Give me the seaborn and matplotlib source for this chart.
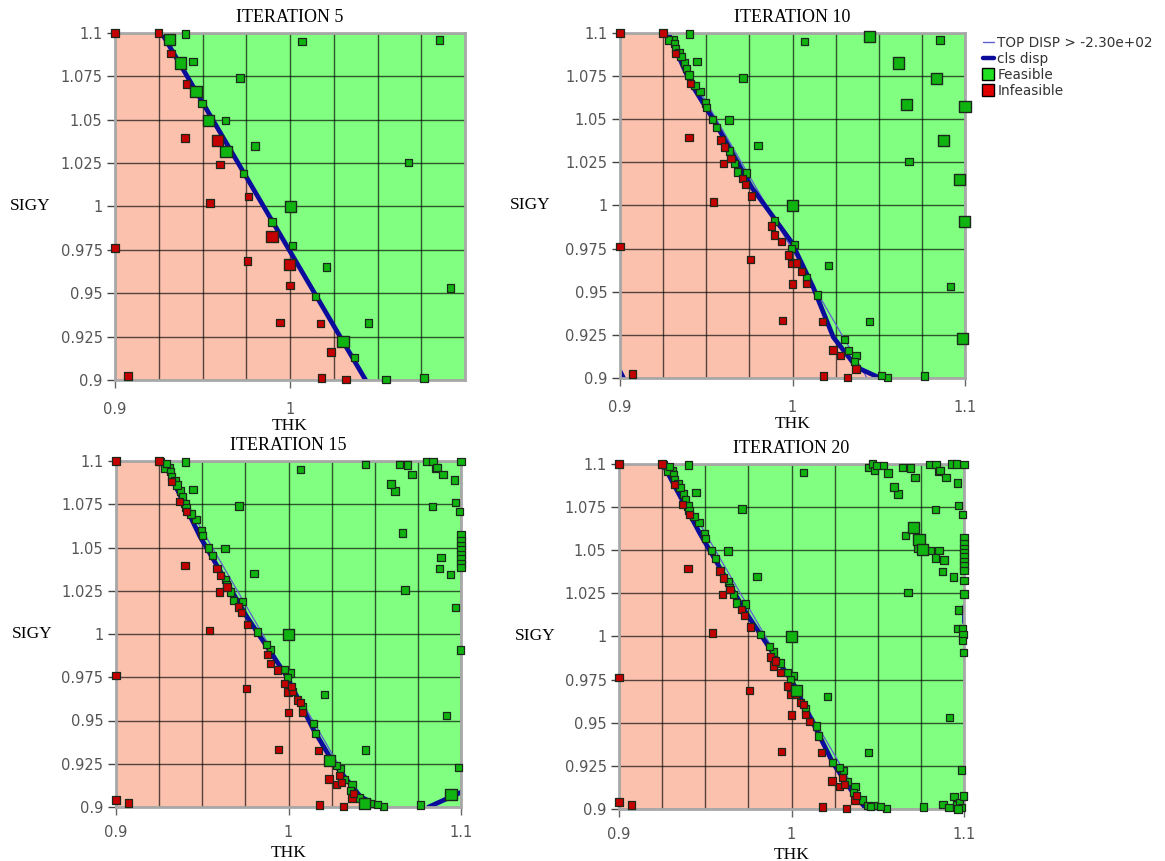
import pandas as pd
import matplotlib
matplotlib.use('Agg')
import matplotlib.pyplot as plt
from matplotlib.lines import Line2D
import seaborn as sns

# ---- sample points (THK, SIGY), cumulative over iterations ----
feas_5 = [(0.9309, 1.096), (0.9402, 1.0994), (0.9373, 1.0827), (0.9446, 1.0834), (0.9714, 1.074),
          (0.9463, 1.0661), (0.9497, 1.0595), (0.9535, 1.0497), (0.9632, 1.0495), (0.9634, 1.0316),
          (0.98, 1.0349), (0.9735, 1.0189), (1.0069, 1.095), (1.0855, 1.096), (1.0676, 1.0254),
          (1.0002, 0.9998), (0.9897, 0.991), (1.0013, 0.9775), (1.0208, 0.9651), (1.0916, 0.953),
          (1.0145, 0.9482), (1.0448, 0.9329), (1.0303, 0.9222), (1.0368, 0.9129), (1.0549, 0.9004),
          (1.0766, 0.9012)]
infeas_5 = [(0.900, 1.100), (0.925, 1.100), (0.932, 1.088), (0.941, 1.0707), (0.940, 1.0395),
            (0.9585, 1.038), (0.960, 1.0243), (0.9543, 1.002), (0.9764, 1.0056), (0.9897, 0.9829),
            (0.900, 0.9761), (0.9998, 0.9665), (0.9756, 0.9686), (1.000, 0.9545), (0.9943, 0.9333),
            (1.0175, 0.9326), (1.0234, 0.9162), (0.9074, 0.9023), (1.0181, 0.9012), (1.032, 0.9004)]
big_feas_5 = [(0.9309, 1.096), (0.9373, 1.0827), (0.9463, 1.0661), (0.9535, 1.0497), (0.9634, 1.0316),
              (1.0002, 0.9998), (1.0303, 0.9222)]
big_infeas_5 = [(0.9585, 1.038), (0.9897, 0.9829), (0.9998, 0.9665)]

feas_10 = [(0.9280, 1.0959), (0.9315, 1.094), (0.9323, 1.091), (0.9342, 1.0888), (0.9354, 1.0862),
           (0.9387, 1.0795), (0.9400, 1.0756), (0.9435, 1.0694), (0.9502, 1.0568), (0.9560, 1.0452),
           (0.9663, 1.0243), (0.9682, 1.0194), (0.9995, 0.9749), (1.0082, 0.9579), (1.0324, 0.9159),
           (1.0358, 0.9095), (1.0517, 0.9014), (1.0445, 1.098), (1.0617, 1.0826), (1.0836, 1.0737),
           (1.0662, 1.0584), (1.1, 1.0573), (1.0874, 1.0377), (1.0967, 1.0153), (1.0996, 0.9907),
           (1.0986, 0.9227)]
infeas_10 = [(0.9605, 1.034), (0.9644, 1.0272), (0.9709, 1.0156), (0.9728, 1.0123), (0.9879, 0.9881),
             (0.9937, 0.9792), (0.9976, 0.9714), (1.0024, 0.9666), (1.0053, 0.9618), (1.0082, 0.9546),
             (1.0279, 0.913), (1.0368, 0.9052)]
big_feas_10 = [(1.0002, 0.9998), (1.0445, 1.098), (1.0617, 1.0826), (1.0836, 1.0737), (1.0662, 1.0584),
               (1.1, 1.0573), (1.0874, 1.0377), (1.0967, 1.0153), (1.0996, 0.9907), (1.0986, 0.9227)]
big_infeas_10 = []

feas_15 = [(0.9255, 1.0996), (0.9294, 1.0987), (0.9406, 1.0731), (0.9642, 1.0284), (0.9820, 1.0011),
           (0.9874, 0.9941), (0.9975, 0.9793), (1.0155, 0.9423), (1.0238, 0.9269), (1.0277, 0.9239),
           (1.0412, 0.9052), (1.0439, 0.9019), (1.0474, 0.9019), (1.0644, 1.0981), (1.0690, 1.0977),
           (1.0716, 1.0923), (1.0799, 1.0996), (1.0837, 1.0996), (1.0860, 1.0962), (1.0895, 1.0923),
           (1.1, 1.0996), (1.0961, 1.0890), (1.0594, 1.0867), (1.0967, 1.0761), (1.0992, 1.0707),
           (1.1, 1.0538), (1.1, 1.0511), (1.1, 1.0486), (1.1, 1.0461), (1.1, 1.0434), (1.1, 1.0409),
           (1.1, 1.0384), (1.0884, 1.0444), (1.0938, 1.0345), (1.0942, 0.9071)]
infeas_15 = [(0.9367, 1.0765), (1.0019, 0.9697), (1.0068, 0.9605), (1.0296, 0.9181), (1.0309, 0.9143),
             (1.0377, 0.9077), (0.9, 0.904)]
big_feas_15 = [(1.0002, 0.9998), (1.0238, 0.9269), (1.0439, 0.9019), (1.0942, 0.9071)]
big_infeas_15 = []

feas_20 = [(0.9935, 0.9847), (1.0028, 0.9687), (1.0469, 1.1), (1.0482, 1.0961), (1.0496, 1.0992),
           (1.0535, 1.0992), (1.0560, 1.0948), (1.0927, 1.1), (1.0956, 1.1), (1.0705, 1.0633),
           (1.0739, 1.0562), (1.0759, 1.0504), (1.0734, 1.0514), (1.0805, 1.0498), (1.0855, 1.0498),
           (1.0836, 1.0456), (1.1, 1.0324), (1.1, 1.0247), (1.0965, 1.0046), (1.0990, 1.0046),
           (1.0994, 1.0011), (1.0990, 0.9977), (1.0878, 0.9027), (1.0913, 0.9008), (1.0956, 0.9027),
           (1.0975, 0.9036), (1.0985, 0.9008), (1.0998, 0.9075), (1.0965, 0.9), (1.0457, 0.9015)]
infeas_20 = [(0.9908, 0.9857), (1.0105, 0.9507)]
big_feas_20 = [(1.0002, 0.9998), (1.0028, 0.9687), (1.0705, 1.0633), (1.0739, 1.0562), (1.0759, 1.0504)]
big_infeas_20 = []

# ---- constraint boundary (cls disp) per iteration, plus stray contour pieces ----
cls_5 = [(0.9267, 1.1), (1.0432, 0.9)]
cls_10 = [(0.928, 1.1), (0.9406, 1.0716), (0.9541, 1.0499), (0.9763, 1.0106), (0.9995, 0.9787),
          (1.012, 0.9526), (1.0237, 0.9236), (1.0372, 0.9062), (1.0507, 0.9)]
cls_15 = [(0.9275, 1.1), (0.9487, 1.0563), (0.9758, 1.0101), (0.999, 0.9755), (1.0145, 0.9447),
          (1.0261, 0.9254), (1.0416, 0.9061), (1.0532, 0.9)]
cls_20 = [(0.9255, 1.1), (0.9468, 1.0599), (0.9738, 1.0135), (1.0009, 0.973), (1.0125, 0.9498),
          (1.024, 0.9267), (1.0357, 0.9093), (1.0434, 0.9)]
extra_10 = [(0.9, 0.904), (0.902, 0.9)]
extra_15 = [(1.0812, 0.9), (1.1, 0.9085)]
extra_20 = [(1.1, 1.0176), (1.1, 1.0085)]
# true constraint TOP DISP > -2.30e+02
top_disp = [(0.9267, 1.1), (1.0432, 0.9)]

y_ticks = [1.1, 1.075, 1.05, 1.025, 1.0, 0.975, 0.95, 0.925, 0.9]
y_tick_labels = ['1.1', '1.075', '1.05', '1.025', '1', '0.975', '0.95', '0.925', '0.9']
x_ticks = [0.9, 1.0, 1.1]
x_tick_labels = ['0.9', '1', '1.1']
x_grid = [0.925, 0.95, 0.975, 1.025, 1.05, 1.075]

GREEN_BG = '#80ff80'
PINK_BG = '#fbc1ad'
GREEN_PT = '#10b410'
RED_PT = '#c40000'
CLS_COLOR = '#0c0c9c'
TOP_COLOR = '#6060d0'
SERIF = 'Liberation Serif'

sns.set_theme(style='white')
plt.rcParams['font.family'] = ['DejaVu Sans']


def to_df(pts, status):
    return pd.DataFrame(pts, columns=['THK', 'SIGY']).assign(status=status)


fig = plt.figure(figsize=(11.65, 8.61), dpi=100)

# axes rectangles in pixels (left, top, width, height)
rects = [(115, 33, 350, 347), (620, 33, 345, 345), (116, 461, 345, 346), (619, 464, 345, 345)]
ylab_x = [-0.243, -0.261, -0.243, -0.243]
tick_pad = [10, 10, 7, 7]

steps = [
    (5, feas_5, infeas_5, big_feas_5, big_infeas_5, cls_5, None),
    (10, feas_10, infeas_10, big_feas_10, big_infeas_10, cls_10, extra_10),
    (15, feas_15, infeas_15, big_feas_15, big_infeas_15, cls_15, extra_15),
    (20, feas_20, infeas_20, big_feas_20, big_infeas_20, cls_20, extra_20),
]

palette = {'Feasible': GREEN_PT, 'Infeasible': RED_PT}
all_f, all_i = [], []
for k, (it, add_f, add_i, big_f, big_i, cls, extra) in enumerate(steps):
    all_f = all_f + add_f
    all_i = all_i + add_i
    x0, y0, w, h = rects[k]
    ax = fig.add_axes([x0 / 1165, 1 - (y0 + h) / 861, w / 1165, h / 861])
    ax.set_facecolor(GREEN_BG)

    # infeasible region to the left of the boundary
    poly = [(0.9, 1.1)] + cls + [(0.9, 0.9)]
    ax.fill([p[0] for p in poly], [p[1] for p in poly], color=PINK_BG, lw=0, zorder=1)

    sns.lineplot(data=to_df(top_disp, 'x'), x='THK', y='SIGY', sort=False, estimator=None,
                 color=TOP_COLOR, lw=0.9, ax=ax, zorder=2)
    sns.lineplot(data=to_df(cls, 'x'), x='THK', y='SIGY', sort=False, estimator=None,
                 color=CLS_COLOR, lw=3.4, ax=ax, zorder=2.2)
    if extra:
        sns.lineplot(data=to_df(extra, 'x'), x='THK', y='SIGY', sort=False, estimator=None,
                     color=CLS_COLOR, lw=3.4, ax=ax, zorder=2.2)

    pts = pd.concat([to_df(all_f, 'Feasible'), to_df(all_i, 'Infeasible')], ignore_index=True)
    sns.scatterplot(data=pts, x='THK', y='SIGY', hue='status', palette=palette, marker='s',
                    s=28, edgecolor='#1c281c', linewidth=0.9, legend=False, ax=ax,
                    zorder=3, clip_on=False)
    big = pd.concat([to_df(big_f, 'Feasible'), to_df(big_i, 'Infeasible')], ignore_index=True)
    sns.scatterplot(data=big, x='THK', y='SIGY', hue='status', palette=palette, marker='s',
                    s=64, edgecolor='#1c281c', linewidth=1.0, legend=False, ax=ax,
                    zorder=3.5, clip_on=False)

    ax.set_xlim(0.9, 1.1)
    ax.set_ylim(0.9, 1.1)
    if it == 5:
        # first panel only labels 0.9 and 1
        ax.set_xticks(x_ticks[:2])
        ax.set_xticklabels(x_tick_labels[:2])
    else:
        ax.set_xticks(x_ticks)
        ax.set_xticklabels(x_tick_labels)
    ax.set_xticks(x_grid, minor=True)
    ax.set_yticks(y_ticks)
    ax.set_yticklabels(y_tick_labels)
    ax.set_axisbelow('line')
    ax.grid(True, which='both', color='black', lw=1.0, alpha=0.65)
    ax.tick_params(axis='x', which='major', bottom=True, length=6, width=1, color='#666666',
                   labelsize=10.5, labelcolor='#555555', pad=tick_pad[k])
    ax.tick_params(axis='x', which='minor', length=0)
    ax.tick_params(axis='y', left=True, length=6, width=1, color='#444444',
                   labelsize=10.5, labelcolor='#555555', pad=3)
    for sp in ax.spines.values():
        sp.set_color('#a8a8a8')
        sp.set_linewidth(2)

    ax.set_title(f'ITERATION {it}', fontfamily=SERIF, fontsize=13, pad=8, color='black')
    ax.set_ylabel('SIGY', rotation=0, fontfamily=SERIF, fontsize=12.5, color='black',
                  ha='center', va='center')
    ax.yaxis.set_label_coords(ylab_x[k], 0.5)
    ax.set_xlabel('THK', fontfamily=SERIF, fontsize=12.5, color='black', va='center')
    ax.xaxis.set_label_coords(0.5, -0.132 if k < 2 else -0.132)

handles = [
    Line2D([], [], color=TOP_COLOR, lw=1.0),
    Line2D([], [], color=CLS_COLOR, lw=3.2),
    Line2D([], [], marker='s', ls='', mfc='#22e022', mec='black', ms=8),
    Line2D([], [], marker='s', ls='', mfc='#e00000', mec='black', ms=8),
]
fig.legend(handles, ['TOP DISP > -2.30e+02', 'cls disp', 'Feasible', 'Infeasible'],
           loc='upper left', bbox_to_anchor=(983 / 1165, 1 - 36 / 861), frameon=False,
           fontsize=9.8, labelcolor='#333333', handlelength=0.8, handletextpad=0.25,
           labelspacing=0.15, borderaxespad=0, borderpad=0)

fig.savefig('out.png', dpi=100)
